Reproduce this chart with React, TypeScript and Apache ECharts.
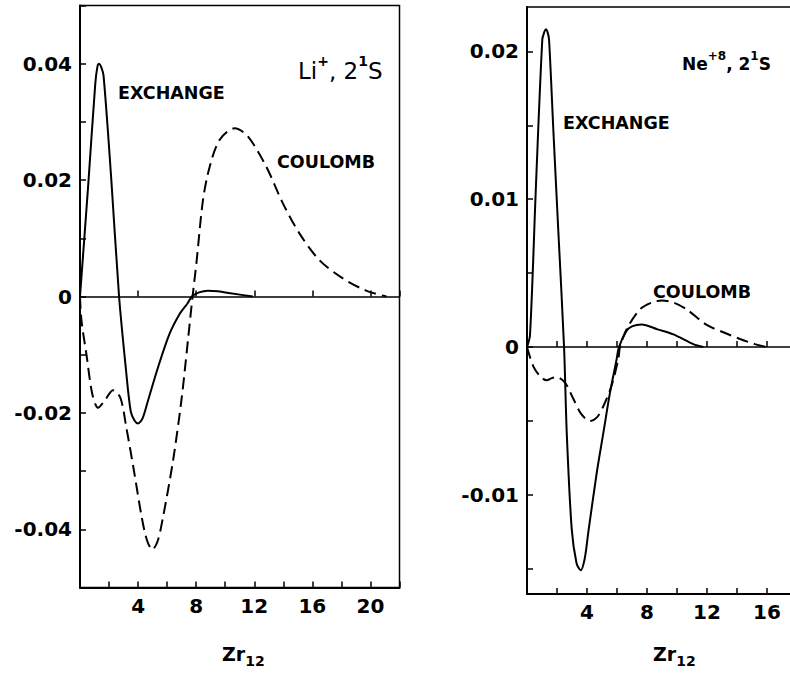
import React, { useEffect, useRef } from "react";
import * as echarts from "echarts";

// Li+, 2^1S panel
const liExchangeX = [0, 0.57, 1.05, 1.2, 1.31, 1.45, 1.62, 2.15, 2.69, 3.15, 3.49, 3.75, 4.0, 4.3, 4.68, 5.37, 6.17, 6.86, 7.4, 7.7, 8.2, 8.8, 9.5, 10.5, 11.9];
const liExchangeY = [0, 0.0193, 0.0365, 0.0395, 0.04, 0.0395, 0.038, 0.0203, 0, -0.0122, -0.0197, -0.0213, -0.0218, -0.021, -0.0179, -0.0122, -0.0064, -0.003, -0.0012, 0, 0.0007, 0.001, 0.0009, 0.0005, 0];
const liCoulombX = [0, 0.1, 0.44, 0.85, 1.24, 1.7, 2.27, 2.78, 3.19, 3.76, 4.22, 4.6, 4.98, 5.35, 5.71, 6.4, 6.98, 7.43, 7.75, 8.01, 8.47, 8.93, 9.61, 10.65, 11.56, 12.83, 13.97, 15.12, 16.5, 18.1, 19.71, 21.1];
const liCoulombY = [0, -0.0041, -0.0099, -0.0168, -0.0191, -0.0179, -0.0161, -0.0174, -0.0225, -0.0306, -0.0375, -0.0418, -0.0435, -0.042, -0.038, -0.0283, -0.0179, -0.0076, 0, 0.0056, 0.0166, 0.0223, 0.0269, 0.0289, 0.0275, 0.0223, 0.016, 0.0108, 0.0062, 0.0031, 0.001, 0];

// Ne+8, 2^1S panel
const neExchangeX = [0, 0.2, 0.6, 1.02, 1.15, 1.26, 1.37, 1.47, 1.76, 2.09, 2.47, 2.65, 2.98, 3.3, 3.58, 3.85, 4.09, 4.65, 5.09, 5.53, 5.98, 6.13, 6.64, 7.0, 7.64, 8.7, 9.76, 11.09, 11.76];
const neExchangeY = [0, 0.0008, 0.011, 0.0208, 0.0213, 0.0215, 0.0213, 0.0208, 0.0146, 0.0078, 0, -0.0058, -0.0123, -0.0146, -0.0151, -0.0143, -0.0125, -0.0085, -0.0058, -0.0031, -0.0008, 0, 0.0011, 0.0014, 0.00153, 0.0012, 0.00086, 0.0002, 0];
const neCoulombX = [0, 0.42, 0.9, 1.31, 1.65, 1.98, 2.53, 3.09, 3.6, 4.2, 4.7, 5.09, 5.64, 6.09, 6.2, 6.64, 7.53, 8.3, 8.98, 9.8, 10.64, 11.98, 13.09, 14.2, 15.2, 15.98];
const neCoulombY = [0, -0.0013, -0.002, -0.00225, -0.0021, -0.00203, -0.0024, -0.0035, -0.0045, -0.005, -0.0047, -0.004, -0.0026, -0.0008, 0, 0.0012, 0.00255, 0.003, 0.00315, 0.003, 0.00255, 0.0015, 0.001, 0.00055, 0.0002, 0];

const liXTickLabels = [4, 8, 12, 16, 20];
const neXTickLabels = [4, 8, 12, 16];
const liYTickLabels = [-0.04, -0.02, 0, 0.02, 0.04];
const neYTicks = [-0.015, -0.01, -0.005, 0, 0.005, 0.01, 0.015, 0.02];
const neYTickLabels = [-0.01, 0, 0.01, 0.02];

const zip = (xs: number[], ys: number[]) => xs.map((x, i) => [x, ys[i]]);

const FONT = "DejaVu Sans";
const fmtY = (v: number) => (Math.abs(v) < 1e-9 ? "0" : v.toFixed(2));

const tickLabelStyle = {
  fontFamily: FONT,
  fontWeight: "bold" as const,
  fontSize: 20,
  color: "#000",
};

function bottomXAxis(grid: number, max: number, labels: number[]) {
  return {
    type: "value",
    gridIndex: grid,
    min: 0,
    max,
    interval: 2,
    position: "bottom",
    axisLine: { onZero: false, lineStyle: { color: "#000", width: 2 } },
    axisTick: { inside: true, length: 6, lineStyle: { color: "#000", width: 1.5 } },
    axisLabel: {
      ...tickLabelStyle,
      margin: 8,
      formatter: (v: number) => (labels.some((l) => Math.abs(l - v) < 1e-6) ? String(v) : ""),
    },
    splitLine: { show: false },
  };
}

function zeroXAxis(grid: number, max: number, interval: number) {
  return {
    type: "value",
    gridIndex: grid,
    min: 0,
    max,
    interval,
    position: "bottom",
    axisLine: { onZero: true, lineStyle: { color: "#000", width: 1.5 } },
    axisTick: { inside: true, length: 6, lineStyle: { color: "#000", width: 1.5 } },
    axisLabel: { show: false },
    splitLine: { show: false },
  };
}

const lineSeries = (x: number[], y: number[], idx: number, dashed: boolean) => ({
  type: "line",
  xAxisIndex: idx === 0 ? 0 : 2,
  yAxisIndex: idx,
  data: zip(x, y),
  showSymbol: false,
  smooth: 0.3,
  lineStyle: { color: "#000", width: 2, type: dashed ? [12, 6] : "solid" },
  z: 5,
});

const bigLabel = (x: number, y: number, text: string) => ({
  type: "text",
  x,
  y,
  style: {
    text,
    fontFamily: FONT,
    fontWeight: "bold",
    fontSize: 17.5,
    fill: "#000",
    verticalAlign: "middle",
  },
});

const axisName = (x: number, y: number) => ({
  type: "text",
  x,
  y,
  style: {
    text: "{m|Zr}{b|12}",
    fill: "#000",
    verticalAlign: "middle",
    rich: {
      m: { fontFamily: FONT, fontWeight: "bold", fontSize: 19, lineHeight: 24, fill: "#000", verticalAlign: "top" },
      b: { fontFamily: FONT, fontWeight: "bold", fontSize: 14, lineHeight: 24, fill: "#000", verticalAlign: "bottom" },
    },
  },
});

const option = {
  animation: false,
  backgroundColor: "#fff",
  grid: [
    { left: 80, top: 5.5, width: 319.5, height: 582, show: true, borderColor: "#000", borderWidth: 1.5, backgroundColor: "transparent", outerBoundsMode: "none", containLabel: false },
    { left: 527, top: 7, width: 300, height: 587, show: true, borderColor: "#000", borderWidth: 1.5, backgroundColor: "transparent", outerBoundsMode: "none", containLabel: false },
  ],
  xAxis: [
    bottomXAxis(0, 22, liXTickLabels),
    zeroXAxis(0, 22, 4),
    bottomXAxis(1, 20, neXTickLabels),
    zeroXAxis(1, 20, 2),
  ],
  yAxis: [
    {
      type: "value",
      gridIndex: 0,
      min: -0.05,
      max: 0.05,
      interval: 0.01,
      axisLine: { onZero: false, lineStyle: { color: "#000", width: 2 } },
      axisTick: { inside: true, length: 6, lineStyle: { color: "#000", width: 1.5 } },
      axisLabel: {
        ...tickLabelStyle,
        margin: 8,
        formatter: (v: number) => (liYTickLabels.some((l) => Math.abs(l - v) < 1e-6) ? fmtY(v) : ""),
      },
      splitLine: { show: false },
    },
    {
      type: "value",
      gridIndex: 1,
      min: -0.0167,
      max: 0.023,
      axisLine: { onZero: false, lineStyle: { color: "#000", width: 2 } },
      axisTick: { inside: true, length: 6, customValues: neYTicks, lineStyle: { color: "#000", width: 1.5 } },
      axisLabel: {
        ...tickLabelStyle,
        margin: 8,
        customValues: neYTickLabels,
        formatter: (v: number) => fmtY(v),
      },
      splitLine: { show: false },
    },
  ],
  series: [
    lineSeries(liExchangeX, liExchangeY, 0, false),
    lineSeries(liCoulombX, liCoulombY, 0, true),
    lineSeries(neExchangeX, neExchangeY, 1, false),
    lineSeries(neCoulombX, neCoulombY, 1, true),
  ],
  graphic: [
    bigLabel(118, 93, "EXCHANGE"),
    bigLabel(277, 162, "COULOMB"),
    bigLabel(563, 123, "EXCHANGE"),
    bigLabel(653, 292, "COULOMB"),
    {
      type: "text",
      x: 298,
      y: 68,
      style: {
        text: "{m|Li}{s|+}{m|, 2}{s|1}{m|S}",
        fill: "#000",
        verticalAlign: "middle",
        rich: {
          m: { fontFamily: FONT, fontSize: 23, lineHeight: 28, fill: "#000", verticalAlign: "bottom" },
          s: { fontFamily: FONT, fontSize: 14, lineHeight: 28, fill: "#000", verticalAlign: "top", fontWeight: "bold" },
        },
      },
    },
    {
      type: "text",
      x: 682,
      y: 61,
      style: {
        text: "{m|Ne}{s|+8}{m|, 2}{s|1}{m|S}",
        fill: "#000",
        verticalAlign: "middle",
        rich: {
          m: { fontFamily: FONT, fontWeight: "bold", fontSize: 17, lineHeight: 22, fill: "#000", verticalAlign: "bottom" },
          s: { fontFamily: FONT, fontWeight: "bold", fontSize: 12, lineHeight: 22, fill: "#000", verticalAlign: "top" },
        },
      },
    },
    axisName(222, 656),
    axisName(653, 656),
  ],
};

export default function App() {
  const ref = useRef<HTMLDivElement>(null);
  useEffect(() => {
    if (!ref.current) return;
    const chart = echarts.init(ref.current, null, { renderer: "svg" });
    chart.setOption(option as any);
    return () => chart.dispose();
  }, []);
  return (
    <div
      ref={ref}
      style={{ position: "fixed", left: 0, top: 0, width: 790, height: 677, background: "#fff" }}
    />
  );
}
